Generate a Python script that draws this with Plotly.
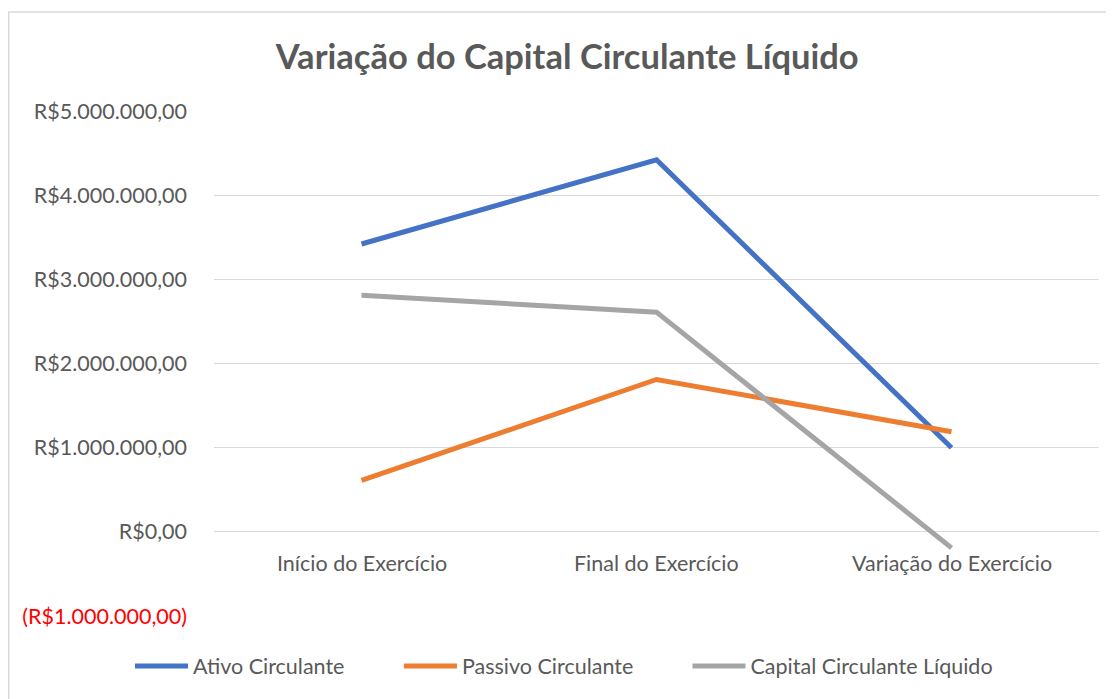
import plotly.graph_objects as go

categories = ["Início do Exercício", "Final do Exercício", "Variação do Exercício"]
ativo = [3420000, 4420000, 1000000]
passivo = [610000, 1810000, 1190000]
capital = [2810000, 2610000, -190000]

tick_vals = [-1000000, 0, 1000000, 2000000, 3000000, 4000000, 5000000]
tick_text = ["<span style='color:#FF0000'>(R$1.000.000,00)</span>", "R$0,00", "R$1.000.000,00",
             "R$2.000.000,00", "R$3.000.000,00", "R$4.000.000,00", "R$5.000.000,00"]

series = [("Ativo Circulante", ativo, "#4472C4", "legend"),
          ("Passivo Circulante", passivo, "#ED7D31", "legend2"),
          ("Capital Circulante Líquido", capital, "#A5A5A5", "legend3")]

FONT = "Lato, 'Open Sans', sans-serif"
TXT = "#595959"
FS = 21.5

fig = go.Figure()
for name, vals, col, lg in series:
    fig.add_trace(go.Scatter(x=categories, y=vals, name=name, mode="lines",
                             line=dict(color=col, width=5), legend=lg))

for c in categories:
    fig.add_annotation(x=c, y=0, xref="x", yref="y", text=c, showarrow=False,
                       yanchor="middle", yshift=-31, font=dict(family=FONT, size=FS, color=TXT))

fig.add_shape(type="rect", xref="paper", yref="paper",
              x0=-0.2319, x1=1.03, y0=-0.2, y1=1.196,
              line=dict(color="#D9D9D9", width=1.5), fillcolor="rgba(0,0,0,0)", layer="below")

legend_common = dict(orientation="h", y=-0.099, yanchor="middle", xanchor="left",
                     font=dict(family=FONT, size=FS, color=TXT), itemwidth=53,
                     bgcolor="rgba(0,0,0,0)")

fig.update_layout(
    width=1114, height=699,
    margin=dict(l=206, r=23, t=103, b=91, autoexpand=False),
    paper_bgcolor="white", plot_bgcolor="white",
    title=dict(text="<b>Variação do Capital Circulante Líquido</b>", x=0.502, xanchor="center",
               y=0.93, yanchor="middle",
               font=dict(family=FONT, size=34.5, color=TXT)),
    font=dict(family=FONT, size=FS, color=TXT),
    xaxis=dict(showticklabels=False, showgrid=False, zeroline=False, showline=False,
               range=[-0.5, 2.5], fixedrange=True),
    yaxis=dict(range=[-1000000, 5000000], tickvals=tick_vals, ticktext=tick_text,
               showgrid=True, gridcolor="#D9D9D9", gridwidth=1.3, zeroline=False,
               showline=False, ticks="", ticklabelstandoff=26,
               tickfont=dict(family=FONT, size=FS, color=TXT)),
    legend=dict(x=-0.0949, **legend_common),
    legend2=dict(x=0.2090, **legend_common),
    legend3=dict(x=0.5350, **legend_common),
    showlegend=True,
)

fig.write_html("out.html")
